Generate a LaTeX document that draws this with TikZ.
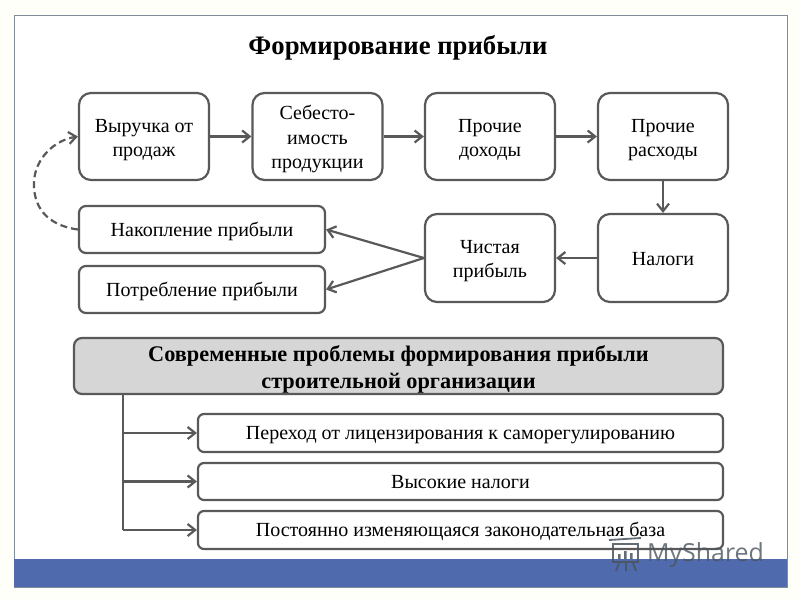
\documentclass[tikz,border=0pt]{standalone}
\usepackage{fontspec}
\setmainfont{Liberation Serif}
\newfontfamily\wmfont{Open Sans}
\usetikzlibrary{arrows.meta}
\definecolor{ln}{HTML}{595959}
\definecolor{bar}{HTML}{4F6BAD}
\definecolor{frm}{HTML}{7F8C99}
\definecolor{hd}{HTML}{D6D6D6}
\definecolor{wm}{HTML}{4A545E}
\newcommand{\mltext}[2][7pt]{\raisebox{-#1}[0pt][0pt]{\begin{tabular}{@{}c@{}}#2\end{tabular}}}
\tikzset{
  x=1pt,y=-1pt,
  boxbase/.style={draw=ln,line width=2.2pt,fill=white,inner sep=0pt,text=black,font=\fontsize{20}{24.5}\selectfont},
  bigbox/.style={boxbase,rounded corners=12pt,minimum width=130pt,minimum height=87pt},
  widebox/.style={boxbase,rounded corners=7pt,minimum width=246pt,minimum height=47pt},
  itembox/.style={boxbase,rounded corners=6pt,minimum width=525pt,minimum height=38pt},
  headbox/.style={boxbase,fill=hd,rounded corners=8pt,minimum width=649pt,minimum height=56pt,font=\bfseries\fontsize{22.3}{27}\selectfont},
  conn/.style={draw=ln,line width=2.2pt,-{Straight Barb[length=7.5pt,width=12pt,line width=2.2pt]}},
  plain/.style={draw=ln,line width=2.2pt},
}
\begin{document}
\begin{tikzpicture}
\useasboundingbox (0,0) rectangle (800,600);
\fill[white!98!yellow] (0,0) rectangle (800,600);
\draw[frm,line width=0.9pt,fill=white] (14,15) rectangle (787,587);
\fill[bar] (13.5,559) rectangle (787,587);
\node[font=\bfseries\fontsize{26.7}{30}\selectfont] (title) at (398,48) {Формирование прибыли};
\node[bigbox] (a) at (144,136.5) {\mltext[8.3pt]{Выручка от\\продаж}};
\node[bigbox] (b) at (317.5,136.5) {\mltext[8pt]{Себесто-\\имость\\продукции}};
\node[bigbox] (c) at (490,136.5) {\mltext[8.3pt]{Прочие\\доходы}};
\node[bigbox] (d) at (663,136.5) {\mltext[8.3pt]{Прочие\\расходы}};
\node[bigbox,minimum height=88pt] (e) at (663,258) {\mltext[7.5pt]{Налоги}};
\node[bigbox,minimum height=88pt] (f) at (490,258) {\mltext[8pt]{Чистая\\прибыль}};
\node[widebox] (g) at (202,229.5) {\mltext{Накопление прибыли}};
\node[widebox] (h) at (202,289.5) {\mltext{Потребление прибыли}};
\node[headbox] (k) at (398.5,366) {\mltext[9pt]{Современные проблемы формирования прибыли\\строительной организации}};
\node[itembox] (m) at (460.5,433) {\mltext{Переход от лицензирования к саморегулированию}};
\node[itembox,minimum height=37pt] (n) at (460.5,481.5) {\mltext{Высокие налоги}};
\node[itembox] (o) at (460.5,530) {\mltext{Постоянно изменяющаяся законодательная база}};
\draw[conn] (a) -- (b);
\draw[conn] (b) -- (c);
\draw[conn] (c) -- (d);
\draw[conn] (d) -- (e);
\draw[conn] (e) -- (f);
\draw[conn] (f.west) -- (g.east);
\draw[conn] (f.west) -- (h.east);
\draw[conn,dash pattern=on 7pt off 4pt] (g.west) .. controls (45,225) and (33,205) .. (34,182) .. controls (35,158) and (55,140) .. (a.west);
\coordinate (t) at (123,394);
\coordinate (tm) at (123,433);
\coordinate (tn) at (123,481.5);
\coordinate (to) at (123,530);
\draw[plain,line join=round] (t) -- (to);
\draw[conn] (tm) -- (m.west);
\draw[conn] (tn) -- (n.west);
\draw[conn] (to) -- (o.west);
% watermark
\begin{scope}[draw=wm,line width=1.8pt,opacity=.85]
\draw (613,544) rectangle (638,562);
\draw (609,540) -- (641,538);
\fill[wm] (618,554) rectangle (620.5,559) (624,551) rectangle (626.5,559) (630,553) rectangle (632.5,559);
\draw (619,563) -- (616,571) (626,563) -- (626,571) (633,563) -- (636,571);
\end{scope}
\node[text=wm,opacity=.8,font=\wmfont\fontsize{24.9}{26}\selectfont,inner sep=0pt,anchor=west] (wmt) at (647,555) {MyShared};
\end{tikzpicture}
\end{document}
